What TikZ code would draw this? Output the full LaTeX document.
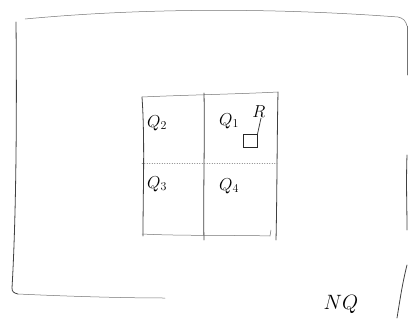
\documentclass[tikz,border=0pt]{standalone}
\begin{document}
\begin{tikzpicture}[x=1pt,y=-1pt,
  sketch/.style={draw=black!75,line width=0.8pt,line cap=round,line join=round},
  faint/.style={draw=black!55,line width=0.5pt,line cap=round},
  lbl/.style={font=\fontsize{17}{19}\selectfont,inner sep=0pt}]
\useasboundingbox (0,0) rectangle (408,322);
% outer region
\draw[faint] (25,19) .. controls (120,10) and (250,6) .. (398,17) .. controls (403,18) and (406,21) .. (407,26);
\draw[sketch] (16,22) .. controls (17,120) and (16,220) .. (12,288) .. controls (12,292) and (14,293) .. (18,294);
\draw[faint] (18,294) .. controls (60,296) and (120,298) .. (165,298);
\draw[faint] (407,26) -- (407,75);
\draw[sketch] (407,155) .. controls (406,185) and (407,205) .. (407,230);
\draw[sketch] (407,265) .. controls (402,285) and (400,300) .. (397,318);
% inner grid
\coordinate (tl) at (142,97);
\coordinate (tr) at (278,92);
\coordinate (bl) at (142,234);
\coordinate (br) at (270,236);
\coordinate (mt) at (204,93);
\coordinate (mb) at (204,240);
\coordinate (ml) at (142,163);
\coordinate (mr) at (277,163);
\draw[faint] (tl) .. controls (185,95) and (240,94) .. (tr);
\draw[sketch] (tl) .. controls (145,140) and (143,190) .. (143,236);
\draw[sketch] (tr) .. controls (277,140) and (277,200) .. (276,240);
\draw[sketch] (mt) .. controls (205,140) and (203,200) .. (mb);
\draw[faint,dotted] (ml) -- (mr);
\draw[faint] (bl) .. controls (180,236) and (240,235) .. (br) -- (271,230);
% labels
\node[lbl] (q2) at (157,123) {$Q_2$};
\node[lbl] (q1) at (229,121) {$Q_1$};
\node[lbl] (q3) at (157,184) {$Q_3$};
\node[lbl] (q4) at (229,186) {$Q_4$};
\node[lbl] (r) at (259,112) {$R$};
\node[draw=black!85,line width=1pt,minimum width=14pt,minimum height=13pt,inner sep=0pt] (sq) at (250,141) {};
\draw[sketch] (r.south) ++(2,0) -- (sq.north east);
\node[lbl,font=\fontsize{20}{22}\selectfont] (nq) at (341,304) {$NQ$};
\end{tikzpicture}
\end{document}
